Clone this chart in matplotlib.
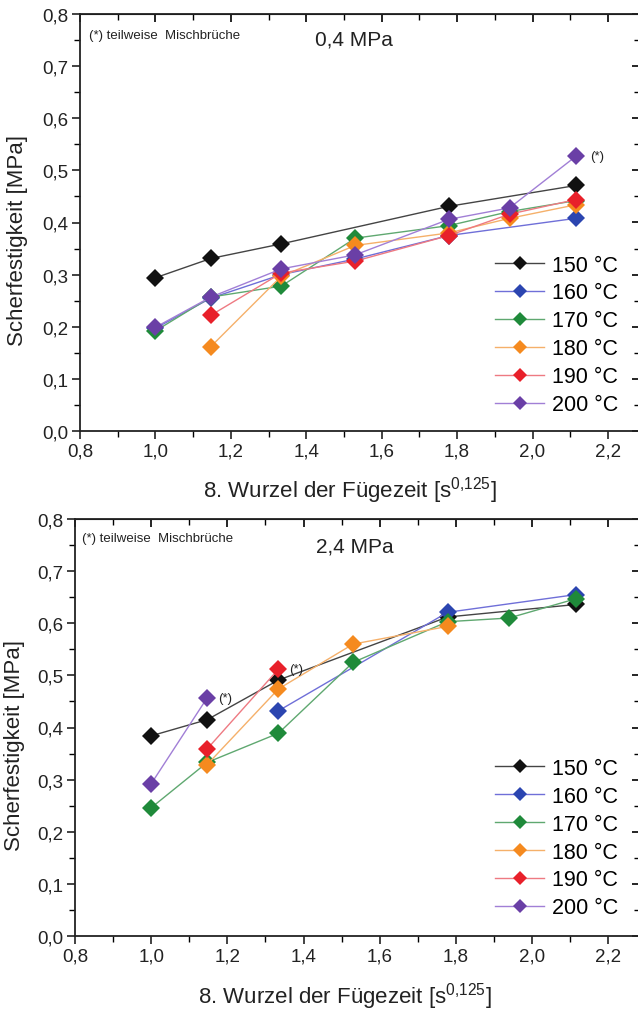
import matplotlib
matplotlib.use("Agg")
import matplotlib.pyplot as plt
from matplotlib.ticker import MultipleLocator, FuncFormatter

plt.rcParams['font.family'] = ['Liberation Sans', 'DejaVu Sans']
plt.rcParams['mathtext.fontset'] = 'custom'
plt.rcParams['mathtext.rm'] = 'Liberation Sans'

temps = ['150 °C', '160 °C', '170 °C', '180 °C', '190 °C', '200 °C']
marker_colors = ['#111111', '#2b45b0', '#1f8a3a', '#f58a1f', '#e8202a', '#6a3fa6']
line_colors = ['#444444', '#6f6fd8', '#5fa870', '#f5b06a', '#ee7a82', '#a17fd6']

# x = 8th root of the joining time (1, 3, 10, 30, 100, 200, 400 s)
# 0,4 MPa
x_04_150 = [1.0, 1.147, 1.334, 1.778, 2.115]
y_04_150 = [0.294, 0.331, 0.359, 0.431, 0.471]
x_04_160 = [1.0, 1.147, 1.334, 1.530, 1.778, 2.115]
y_04_160 = [0.197, 0.255, 0.300, 0.330, 0.375, 0.408]
x_04_170 = [1.0, 1.147, 1.334, 1.530, 1.778, 1.939, 2.115]
y_04_170 = [0.192, 0.257, 0.278, 0.370, 0.394, 0.421, 0.442]
x_04_180 = [1.147, 1.334, 1.530, 1.778, 1.939, 2.115]
y_04_180 = [0.162, 0.297, 0.356, 0.380, 0.408, 0.434]
x_04_190 = [1.147, 1.334, 1.530, 1.778, 1.939, 2.115]
y_04_190 = [0.222, 0.303, 0.326, 0.375, 0.416, 0.444]
x_04_200 = [1.0, 1.147, 1.334, 1.530, 1.778, 1.939, 2.115]
y_04_200 = [0.199, 0.257, 0.311, 0.338, 0.406, 0.428, 0.527]

# 2,4 MPa
x_24_150 = [1.0, 1.147, 1.334, 1.778, 2.115]
y_24_150 = [0.384, 0.415, 0.491, 0.612, 0.636]
x_24_160 = [1.334, 1.778, 2.115]
y_24_160 = [0.432, 0.621, 0.655]
x_24_170 = [1.0, 1.147, 1.334, 1.530, 1.778, 1.939, 2.115]
y_24_170 = [0.246, 0.333, 0.389, 0.525, 0.603, 0.610, 0.647]
x_24_180 = [1.147, 1.334, 1.530, 1.778]
y_24_180 = [0.329, 0.474, 0.560, 0.594]
x_24_190 = [1.147, 1.334]
y_24_190 = [0.359, 0.512]
x_24_200 = [1.0, 1.147]
y_24_200 = [0.292, 0.457]

panel_04 = [(x_04_150, y_04_150), (x_04_160, y_04_160), (x_04_170, y_04_170),
            (x_04_180, y_04_180), (x_04_190, y_04_190), (x_04_200, y_04_200)]
panel_24 = [(x_24_150, y_24_150), (x_24_160, y_24_160), (x_24_170, y_24_170),
            (x_24_180, y_24_180), (x_24_190, y_24_190), (x_24_200, y_24_200)]

comma = FuncFormatter(lambda v, p: ('%.1f' % v).replace('.', ','))
TXT = '#222222'

fig = plt.figure(figsize=(6.38, 10.12), dpi=100)
W, H = 638.0, 1012.0


def make_axes(left_px, top_px, bottom_px, xmax):
    right_px = 640.0
    ax = fig.add_axes([left_px / W, 1 - bottom_px / H,
                       (right_px - left_px) / W, (bottom_px - top_px) / H])
    ax.set_xlim(0.8, xmax)
    ax.set_ylim(0.0, 0.8)
    ax.xaxis.set_major_locator(MultipleLocator(0.2))
    ax.xaxis.set_minor_locator(MultipleLocator(0.1))
    ax.yaxis.set_major_locator(MultipleLocator(0.1))
    ax.yaxis.set_minor_locator(MultipleLocator(0.05))
    ax.xaxis.set_major_formatter(comma)
    ax.yaxis.set_major_formatter(comma)
    ax.tick_params(which='major', direction='out', length=6, width=1.2,
                   labelsize=13.5, colors=TXT, pad=2.5)
    ax.tick_params(which='minor', direction='out', length=4, width=1.0)
    for s in ax.spines.values():
        s.set_linewidth(1.3)
        s.set_color(TXT)
    # mirrored ticks on top and right, pointing inwards
    top = ax.secondary_xaxis('top')
    top.xaxis.set_major_locator(MultipleLocator(0.2))
    top.xaxis.set_minor_locator(MultipleLocator(0.1))
    top.tick_params(which='major', direction='in', length=6, width=1.2, labeltop=False)
    top.tick_params(which='minor', direction='in', length=4, width=1.0)
    right = ax.secondary_yaxis('right')
    right.yaxis.set_major_locator(MultipleLocator(0.1))
    right.yaxis.set_minor_locator(MultipleLocator(0.05))
    right.tick_params(which='major', direction='in', length=6, width=1.2, labelright=False)
    right.tick_params(which='minor', direction='in', length=4, width=1.0)
    return ax


def draw_panel(ax, series, pressure, note_pos, pressure_pos, leg_anchor):
    for (xs, ys), lab, mc, lc in zip(series, temps, marker_colors, line_colors):
        ax.plot(xs, ys, '-', color=lc, lw=1.0, marker='D', markersize=9.5,
                markerfacecolor=mc, markeredgecolor=mc, markeredgewidth=0,
                label=lab)
    ax.text(*note_pos, '(*) teilweise  Mischbrüche', transform=ax.transAxes,
            fontsize=9.5, va='center', ha='left', color=TXT)
    ax.text(*pressure_pos, pressure, transform=ax.transAxes,
            fontsize=15, va='center', ha='center', color=TXT)
    ax.legend(loc='upper left', bbox_to_anchor=leg_anchor, frameon=False,
              fontsize=15.5, handlelength=2.3, handletextpad=0.37,
              labelspacing=0.32, borderpad=0, borderaxespad=0, markerscale=0.8)
    ax.set_xlabel('8. Wurzel der Fügezeit [s$^{\\mathregular{0{,}125}}$]',
                  fontsize=16, color=TXT)
    ax.set_ylabel('Scherfestigkeit [MPa]', fontsize=16, color=TXT)


def star(ax, xs, ys, dx=10):
    ax.annotate('(*)', (xs[-1], ys[-1]), xytext=(dx, 0), textcoords='offset points',
                fontsize=9.5, va='center', color=TXT)


ax1 = make_axes(80, 15, 432, 2.285)
draw_panel(ax1, panel_04, '0,4 MPa', (0.016, 0.95), (0.49, 0.94), (0.741, 0.423))
star(ax1, x_04_200, y_04_200)
ax1.xaxis.set_label_coords(0.482, -0.103)
ax1.yaxis.set_label_coords(-0.093, 0.46)

ax2 = make_axes(75, 520, 937, 2.283)
draw_panel(ax2, panel_24, '2,4 MPa', (0.012, 0.955), (0.496, 0.935), (0.743, 0.427))
star(ax2, x_24_200, y_24_200, 8)
star(ax2, x_24_190, y_24_190, 8)
ax2.xaxis.set_label_coords(0.478, -0.105)
ax2.yaxis.set_label_coords(-0.088, 0.46)

fig.savefig('out.png', dpi=100)
